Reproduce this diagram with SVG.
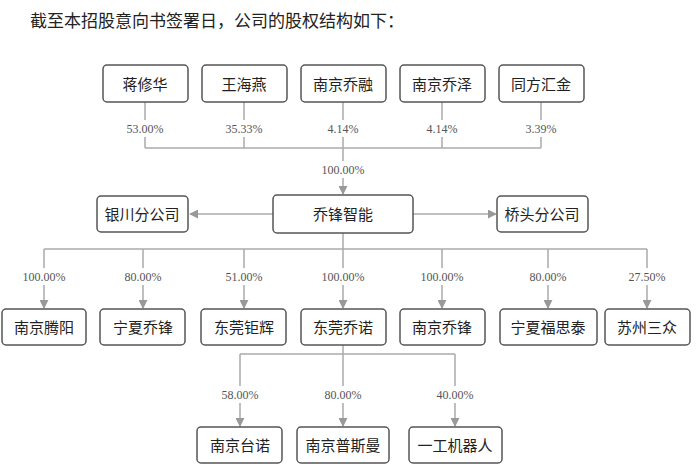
<svg xmlns="http://www.w3.org/2000/svg" width="700" height="472" viewBox="0 0 700 472">
<style>
.b{fill:#fff;stroke:#555;stroke-width:1.5}
.t{font-family:"Liberation Sans","Noto Sans CJK SC",sans-serif;font-size:15px;fill:#222;text-anchor:middle;dominant-baseline:central}
.p{font-family:"Liberation Serif",serif;font-size:12px;fill:#555;text-anchor:middle}
.l{stroke:#aaa;stroke-width:1.5;fill:none}
.w{fill:#fff}
</style>
<defs><marker id="a" viewBox="0 0 10 10" refX="9" refY="5" markerWidth="6" markerHeight="6" orient="auto"><path d="M0,0L10,5L0,10z" fill="#999"/></marker></defs>
<rect width="700" height="472" fill="#fff"/>
<text x="30" y="27" style="font-family:'Noto Sans CJK SC',sans-serif;font-size:17px;fill:#222">截至本招股意向书签署日，公司的股权结构如下：</text>
<g id="connectors">
<path class="l" d="M145,102V148M244,102V148M343,102V148M442,102V148M541,102V148M145,148H541"/>
<path class="l" d="M343,148V194" marker-end="url(#a)"/>
<path class="l" d="M273,214H190" marker-end="url(#a)"/>
<path class="l" d="M413,214H496" marker-end="url(#a)"/>
<path class="l" d="M343,233V249M44,249H647"/>
<path class="l" d="M44,249V308" marker-end="url(#a)"/>
<path class="l" d="M143,249V308" marker-end="url(#a)"/>
<path class="l" d="M244,249V308" marker-end="url(#a)"/>
<path class="l" d="M343,249V308" marker-end="url(#a)"/>
<path class="l" d="M442,249V308" marker-end="url(#a)"/>
<path class="l" d="M548,249V308" marker-end="url(#a)"/>
<path class="l" d="M647,249V308" marker-end="url(#a)"/>
<path class="l" d="M343,345V354M240,354H455"/>
<path class="l" d="M240,354V426" marker-end="url(#a)"/>
<path class="l" d="M343,354V426" marker-end="url(#a)"/>
<path class="l" d="M455,354V426" marker-end="url(#a)"/>
</g>
<g class="w">
<rect x="115" y="120" width="60" height="17"/><rect x="214" y="120" width="60" height="17"/><rect x="318" y="120" width="50" height="17"/><rect x="417" y="120" width="50" height="17"/><rect x="516" y="120" width="50" height="17"/>
<rect x="313" y="161" width="60" height="17"/>
<rect x="11" y="268" width="66" height="17"/><rect x="113" y="268" width="60" height="17"/><rect x="214" y="268" width="60" height="17"/><rect x="310" y="268" width="66" height="17"/><rect x="409" y="268" width="66" height="17"/><rect x="518" y="268" width="60" height="17"/><rect x="617" y="268" width="60" height="17"/>
<rect x="210" y="386" width="60" height="17"/><rect x="313" y="386" width="60" height="17"/><rect x="425" y="386" width="60" height="17"/>
</g>
<g class="p">
<text x="145" y="133">53.00%</text><text x="244" y="133">35.33%</text><text x="343" y="133">4.14%</text><text x="442" y="133">4.14%</text><text x="541" y="133">3.39%</text>
<text x="343" y="174">100.00%</text>
<text x="44" y="281">100.00%</text><text x="143" y="281">80.00%</text><text x="244" y="281">51.00%</text><text x="343" y="281">100.00%</text><text x="442" y="281">100.00%</text><text x="548" y="281">80.00%</text><text x="647" y="281">27.50%</text>
<text x="240" y="399">58.00%</text><text x="343" y="399">80.00%</text><text x="455" y="399">40.00%</text>
</g>
<g id="n1"><rect class="b" x="103" y="65" width="85" height="37" rx="4"/><text class="t" x="145" y="84">蒋修华</text></g>
<g id="n2"><rect class="b" x="202" y="65" width="85" height="37" rx="4"/><text class="t" x="244" y="84">王海燕</text></g>
<g id="n3"><rect class="b" x="301" y="65" width="85" height="37" rx="4"/><text class="t" x="343" y="84">南京乔融</text></g>
<g id="n4"><rect class="b" x="400" y="65" width="85" height="37" rx="4"/><text class="t" x="442" y="84">南京乔泽</text></g>
<g id="n5"><rect class="b" x="499" y="65" width="85" height="37" rx="4"/><text class="t" x="541" y="84">同方汇金</text></g>
<g id="main"><rect class="b" x="273" y="195" width="140" height="38" rx="4"/><text class="t" x="343" y="214">乔锋智能</text></g>
<g id="yc"><rect class="b" x="97" y="196" width="91" height="36" rx="4"/><text class="t" x="142" y="214">银川分公司</text></g>
<g id="qt"><rect class="b" x="497" y="196" width="91" height="36" rx="4"/><text class="t" x="542" y="214">桥头分公司</text></g>
<g id="s1"><rect class="b" x="2" y="309" width="84" height="36" rx="4"/><text class="t" x="44" y="327">南京腾阳</text></g>
<g id="s2"><rect class="b" x="100" y="309" width="85" height="36" rx="4"/><text class="t" x="143" y="327">宁夏乔锋</text></g>
<g id="s3"><rect class="b" x="201" y="309" width="85" height="36" rx="4"/><text class="t" x="244" y="327">东莞钜辉</text></g>
<g id="s4"><rect class="b" x="301" y="309" width="85" height="36" rx="4"/><text class="t" x="343" y="327">东莞乔诺</text></g>
<g id="s5"><rect class="b" x="400" y="309" width="85" height="36" rx="4"/><text class="t" x="442" y="327">南京乔锋</text></g>
<g id="s6"><rect class="b" x="500" y="309" width="97" height="36" rx="4"/><text class="t" x="548" y="327">宁夏福思泰</text></g>
<g id="s7"><rect class="b" x="605" y="309" width="85" height="36" rx="4"/><text class="t" x="647" y="327">苏州三众</text></g>
<g id="g1"><rect class="b" x="197" y="427" width="85" height="36" rx="4"/><text class="t" x="240" y="445">南京台诺</text></g>
<g id="g2"><rect class="b" x="297" y="427" width="92" height="36" rx="4"/><text class="t" x="343" y="445">南京普斯曼</text></g>
<g id="g3"><rect class="b" x="409" y="427" width="93" height="36" rx="4"/><text class="t" x="455" y="445">一工机器人</text></g>
</svg>
